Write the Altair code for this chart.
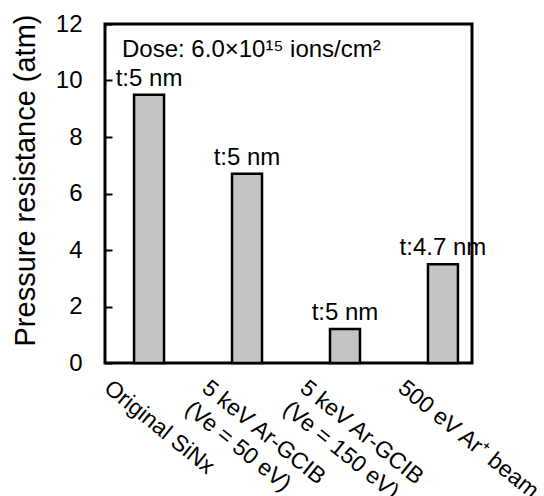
import altair as alt
import pandas as pd

categories = ["Original SiNx", "5 keV Ar-GCIB\n(Ve = 50 eV)", "5 keV Ar-GCIB\n(Ve = 150 eV)", "500 eV Ar\u207a beam"]
resistance = [9.5, 6.7, 1.2, 3.5]
thickness_labels = ["t:5 nm", "t:5 nm", "t:5 nm", "t:4.7 nm"]
dose_note = ["Dose: 6.0\u00d710\u00b9\u2075 ions/cm\u00b2"]
y_ticks = list(range(0, 13))

FONT = "Liberation Sans"

df = pd.DataFrame({"cat": categories, "val": resistance, "lab": thickness_labels})
note_df = pd.DataFrame({"t": dose_note})

x_enc = alt.X(
    "cat:N",
    sort=categories,
    scale=alt.Scale(paddingInner=0.694, paddingOuter=0.22, align=0.674),
    axis=alt.Axis(
        title=None, labelAngle=39, labelAlign="left", labelBaseline="top",
        labelOffset=-35, labelPadding=13, ticks=False, domain=False,
        labelFontSize=23, labelFont=FONT, labelColor="black",
        labelLineHeight=27, labelLimit=400, labelOverlap=False,
        labelExpr="split(datum.label, '\\n')",
    ),
)
y_enc = alt.Y(
    "val:Q",
    scale=alt.Scale(domain=[0, 12], nice=False, zero=True),
    axis=alt.Axis(
        title="Pressure resistance (atm)", values=y_ticks,
        labelExpr="datum.value % 2 == 0 ? datum.label : ''",
        offset=-7, tickSize=7, tickWidth=2, tickColor="black",
        domain=False, grid=False, labelPadding=23,
        labelFontSize=24, labelFont=FONT, labelColor="black",
        titleFontSize=29, titleFont=FONT, titleFontWeight="normal",
        titleColor="black", titlePadding=15, titleY=156,
    ),
)

bars = alt.Chart(df).mark_bar(fill="#c4c4c4", stroke="black", strokeWidth=2.5).encode(
    x=x_enc, y=y_enc
)
labels = alt.Chart(df).mark_text(
    baseline="alphabetic", dy=-9, fontSize=24, font=FONT, color="black"
).encode(x=alt.X("cat:N", sort=categories), y="val:Q", text="lab:N")

note = alt.Chart(note_df).mark_text(
    align="left", baseline="alphabetic", fontSize=24, font=FONT, color="black"
).encode(x=alt.value(17), y=alt.value(33), text="t:N")

chart = alt.layer(bars, labels, note).properties(
    width=367, height=339,
    autosize=alt.AutoSizeParams(type="none"),
    padding={"left": 105, "top": 24, "right": 72, "bottom": 133},
    background="white",
).configure_view(stroke="black", strokeWidth=3)

chart.save("out.html", embed_options={"renderer": "svg", "actions": False})
